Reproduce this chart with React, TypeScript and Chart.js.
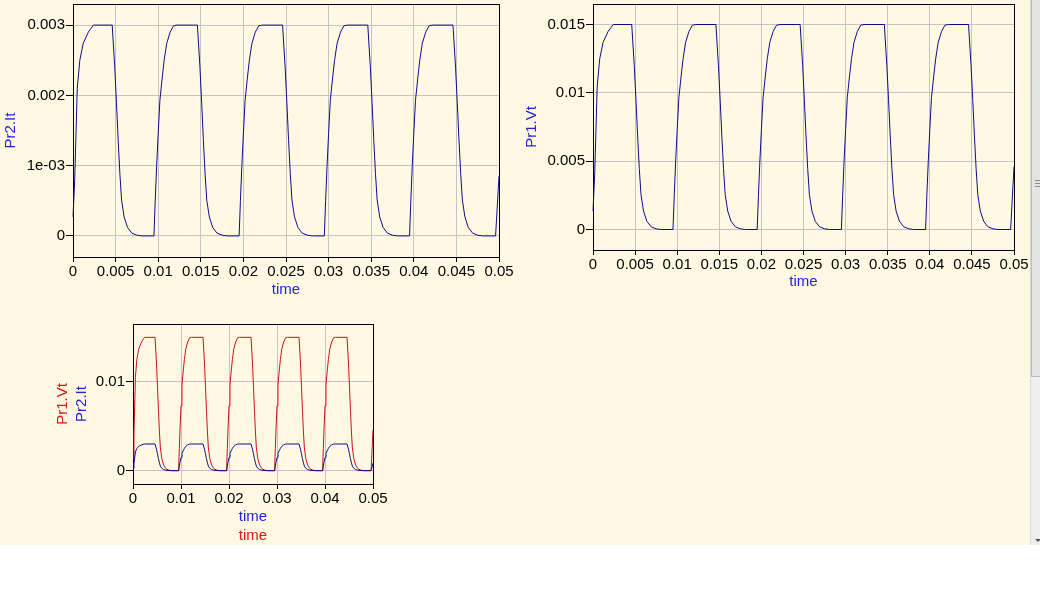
import React, { useEffect, useRef } from "react";
import { Chart, registerables } from "chart.js";

Chart.register(...registerables);

// ---------- data ----------
const time = [
  0, 0.0002, 0.0005, 0.0008, 0.0012, 0.0018, 0.0024, 0.0046, 0.0049, 0.0051, 0.0053, 0.0055, 0.0057, 0.006, 0.0064, 0.0069, 0.0075, 0.0081,
  0.0095, 0.00965, 0.00982, 0.01, 0.0102, 0.01048, 0.0107, 0.011, 0.0114, 0.0118, 0.0122, 0.0146, 0.0149, 0.0151, 0.0153, 0.0155, 0.0157, 0.016, 0.0164, 0.0169, 0.0175, 0.0181,
  0.0195, 0.01965, 0.01982, 0.02, 0.0202, 0.02048, 0.0207, 0.021, 0.0214, 0.0218, 0.0222, 0.0246, 0.0249, 0.0251, 0.0253, 0.0255, 0.0257, 0.026, 0.0264, 0.0269, 0.0275, 0.0281,
  0.0295, 0.02965, 0.02982, 0.03, 0.0302, 0.03048, 0.0307, 0.031, 0.0314, 0.0318, 0.0322, 0.0346, 0.0349, 0.0351, 0.0353, 0.0355, 0.0357, 0.036, 0.0364, 0.0369, 0.0375, 0.0381,
  0.0395, 0.03965, 0.03982, 0.04, 0.0402, 0.04048, 0.0407, 0.041, 0.0414, 0.0418, 0.0422, 0.0446, 0.0449, 0.0451, 0.0453, 0.0455, 0.0457, 0.046, 0.0464, 0.0469, 0.0475, 0.0481,
  0.0496, 0.05,
];

const pr2It = [
  0.00027, 0.0008, 0.0021, 0.0025, 0.00274, 0.0029, 0.003, 0.003, 0.0024, 0.0019, 0.00137, 0.00089, 0.00051, 0.00027, 0.00012, 0.00004, 0.00001, 0,
  0, 0.0005, 0.001, 0.00146, 0.00193, 0.00226, 0.0025, 0.00274, 0.0029, 0.00299, 0.003, 0.003, 0.0024, 0.0019, 0.00137, 0.00089, 0.00051, 0.00027, 0.00012, 0.00004, 0.00001, 0,
  0, 0.0005, 0.001, 0.00146, 0.00193, 0.00226, 0.0025, 0.00274, 0.0029, 0.00299, 0.003, 0.003, 0.0024, 0.0019, 0.00137, 0.00089, 0.00051, 0.00027, 0.00012, 0.00004, 0.00001, 0,
  0, 0.0005, 0.001, 0.00146, 0.00193, 0.00226, 0.0025, 0.00274, 0.0029, 0.00299, 0.003, 0.003, 0.0024, 0.0019, 0.00137, 0.00089, 0.00051, 0.00027, 0.00012, 0.00004, 0.00001, 0,
  0, 0.0005, 0.001, 0.00146, 0.00193, 0.00226, 0.0025, 0.00274, 0.0029, 0.00299, 0.003, 0.003, 0.0024, 0.0019, 0.00137, 0.00089, 0.00051, 0.00027, 0.00012, 0.00004, 0.00001, 0,
  0, 0.00085,
];

const pr1Vt = [
  0.00135, 0.004, 0.0105, 0.0125, 0.0137, 0.0145, 0.015, 0.015, 0.012, 0.0095, 0.00685, 0.00445, 0.00255, 0.00135, 0.0006, 0.0002, 0.00005, 0,
  0, 0.0025, 0.005, 0.0073, 0.00965, 0.0113, 0.0125, 0.0137, 0.0145, 0.01495, 0.015, 0.015, 0.012, 0.0095, 0.00685, 0.00445, 0.00255, 0.00135, 0.0006, 0.0002, 0.00005, 0,
  0, 0.0025, 0.005, 0.0073, 0.00965, 0.0113, 0.0125, 0.0137, 0.0145, 0.01495, 0.015, 0.015, 0.012, 0.0095, 0.00685, 0.00445, 0.00255, 0.00135, 0.0006, 0.0002, 0.00005, 0,
  0, 0.0025, 0.005, 0.0073, 0.00965, 0.0113, 0.0125, 0.0137, 0.0145, 0.01495, 0.015, 0.015, 0.012, 0.0095, 0.00685, 0.00445, 0.00255, 0.00135, 0.0006, 0.0002, 0.00005, 0,
  0, 0.0025, 0.005, 0.0073, 0.00965, 0.0113, 0.0125, 0.0137, 0.0145, 0.01495, 0.015, 0.015, 0.012, 0.0095, 0.00685, 0.00445, 0.00255, 0.00135, 0.0006, 0.0002, 0.00005, 0,
  0, 0.0046,
];

// ---------- ticks ----------
const xTicksFine = [0, 0.005, 0.01, 0.015, 0.02, 0.025, 0.03, 0.035, 0.04, 0.045, 0.05];
const xLabelsFine = ["0", "0.005", "0.01", "0.015", "0.02", "0.025", "0.03", "0.035", "0.04", "0.045", "0.05"];
const xTicksCoarse = [0, 0.01, 0.02, 0.03, 0.04, 0.05];
const xLabelsCoarse = ["0", "0.01", "0.02", "0.03", "0.04", "0.05"];

const yTicksIt = [0, 0.001, 0.002, 0.003];
const yLabelsIt = ["0", "1e-03", "0.002", "0.003"];
const yRangeIt = [-0.0003, 0.0033];

const yTicksVt = [0, 0.005, 0.01, 0.015];
const yLabelsVt = ["0", "0.005", "0.01", "0.015"];
const yRangeVt = [-0.0015, 0.0165];

const yTicksBoth = [0, 0.01];
const yLabelsBoth = ["0", "0.01"];

const xRange = [0, 0.05];

// ---------- styles ----------
const FONT = { family: "'Liberation Sans', Arial, sans-serif", size: 15 };
const GRID = "#C4C4C4";
const BLUE_LINE = "#0C0C8C";
const RED_LINE = "#C81414";
const BLUE_TEXT = "#2323D8";
const RED_TEXT = "#E01414";
const CREAM = "#FFF9E3";

const framePlugin = {
  id: "frame",
  beforeDatasetsDraw(chart: any) {
    const { ctx, chartArea } = chart;
    const l = Math.round(chartArea.left) + 0.5;
    const t = Math.round(chartArea.top) + 0.5;
    const r = Math.round(chartArea.right) + 0.5;
    const b = Math.round(chartArea.bottom) + 0.5;
    ctx.save();
    ctx.strokeStyle = "#000";
    ctx.lineWidth = 1;
    ctx.strokeRect(l, t, r - l, b - t);
    ctx.restore();
  },
};

function pts(ys: number[]) {
  return time.map((t, i) => ({ x: t, y: ys[i] }));
}

function xAxis(ticks: number[], labels: string[], title: string, color: string, height: number) {
  return {
    type: "linear",
    position: "bottom",
    weight: 0,
    min: xRange[0],
    max: xRange[1],
    afterBuildTicks: (s: any) => {
      s.ticks = ticks.map((v) => ({ value: v }));
    },
    afterFit: (s: any) => {
      s.height = height;
      s.paddingLeft = 0;
      s.paddingRight = 0;
    },
    ticks: {
      callback: (_v: any, i: number) => labels[i],
      color: "#000",
      padding: 1,
      maxRotation: 0,
      autoSkip: false,
      font: FONT,
    },
    grid: { color: GRID, tickColor: "#000", tickLength: 5, lineWidth: 1 },
    border: { color: "#000" },
    title: { display: true, text: title, color, font: FONT, padding: { top: 0, bottom: 0 } },
  };
}

function yAxis(ticks: number[], labels: string[], range: number[], title: string, color: string, width: number, titlePad: number) {
  return {
    type: "linear",
    position: "left",
    weight: 0,
    min: range[0],
    max: range[1],
    afterBuildTicks: (s: any) => {
      s.ticks = ticks.map((v) => ({ value: v }));
    },
    afterFit: (s: any) => {
      s.width = width;
      s.paddingTop = 0;
      s.paddingBottom = 0;
    },
    ticks: {
      callback: (_v: any, i: number) => labels[i],
      color: "#000",
      padding: 1,
      autoSkip: false,
      font: FONT,
    },
    grid: { color: GRID, tickColor: "#000", tickLength: 7, lineWidth: 1 },
    border: { color: "#000" },
    title: { display: true, text: title, color, font: FONT, padding: { top: titlePad, bottom: 0 } },
  };
}

function titleOnlyAxis(position: string, range: number[], title: string, color: string, size: number, titlePad: number) {
  const horizontal = position === "bottom";
  return {
    type: "linear",
    position,
    weight: 1,
    min: range[0],
    max: range[1],
    ticks: { display: false },
    grid: { display: false },
    border: { display: false },
    afterFit: (s: any) => {
      if (horizontal) {
        s.height = size;
        s.paddingLeft = 0;
        s.paddingRight = 0;
      } else {
        s.width = size;
        s.paddingTop = 0;
        s.paddingBottom = 0;
      }
    },
    title: { display: true, text: title, color, font: FONT, padding: { top: titlePad, bottom: 0 } },
  };
}

function line(label: string, ys: number[], color: string) {
  return {
    label,
    data: pts(ys),
    borderColor: color,
    backgroundColor: color,
    borderWidth: 1,
    pointRadius: 0,
    tension: 0,
    fill: false,
    clip: false,
  };
}

function baseOptions(padding: any, scales: any) {
  return {
    animation: false,
    responsive: false,
    devicePixelRatio: 1,
    events: [],
    layout: { padding },
    plugins: { legend: { display: false }, tooltip: { enabled: false } },
    scales,
  };
}

const configIt = () => ({
  type: "line",
  data: { datasets: [line("Pr2.It", pr2It, BLUE_LINE)] },
  options: baseOptions(
    { left: 0, top: 4, right: 21, bottom: 0 },
    {
      x: xAxis(xTicksFine, xLabelsFine, "time", BLUE_TEXT, 42),
      y: yAxis(yTicksIt, yLabelsIt, yRangeIt, "Pr2.It", BLUE_TEXT, 73, 2),
    }
  ),
  plugins: [framePlugin],
});

const configVt = () => ({
  type: "line",
  data: { datasets: [line("Pr1.Vt", pr1Vt, BLUE_LINE)] },
  options: baseOptions(
    { left: 0, top: 4, right: 16, bottom: 0 },
    {
      x: xAxis(xTicksFine, xLabelsFine, "time", BLUE_TEXT, 41),
      y: yAxis(yTicksVt, yLabelsVt, yRangeVt, "Pr1.Vt", BLUE_TEXT, 73, 3),
    }
  ),
  plugins: [framePlugin],
});

const configBoth = () => ({
  type: "line",
  data: {
    datasets: [line("Pr2.It", pr2It, BLUE_LINE), line("Pr1.Vt", pr1Vt, RED_LINE)],
  },
  options: baseOptions(
    { left: 0, top: 14, right: 17, bottom: 0 },
    {
      x: xAxis(xTicksCoarse, xLabelsCoarse, "time", BLUE_TEXT, 42),
      x2: titleOnlyAxis("bottom", xRange, "time", RED_TEXT, 19, 0),
      y: yAxis(yTicksBoth, yLabelsBoth, yRangeVt, "Pr2.It", BLUE_TEXT, 60, 0),
      yv: titleOnlyAxis("left", yRangeVt, "Pr1.Vt", RED_TEXT, 33, 14),
    }
  ),
  plugins: [framePlugin],
});

function Plot({ left, top, width, height, config }: { left: number; top: number; width: number; height: number; config: () => any }) {
  const ref = useRef<HTMLCanvasElement>(null);
  useEffect(() => {
    const chart = new Chart(ref.current as HTMLCanvasElement, config());
    return () => chart.destroy();
  }, [config]);
  return (
    <canvas
      ref={ref}
      width={width}
      height={height}
      style={{ position: "absolute", left, top, width, height, display: "block" }}
    />
  );
}

export default function App() {
  return (
    <div style={{ position: "absolute", left: 0, top: 0, width: 1040, height: 609, background: "#fff", overflow: "hidden" }}>
      <div style={{ position: "absolute", left: 0, top: 0, width: 1030, height: 545, background: CREAM }} />
      {/* scrollbar */}
      <div style={{ position: "absolute", left: 1030, top: 0, width: 10, height: 545, background: "#EFEFEF", borderLeft: "1px solid #D8D8D8", boxSizing: "border-box" }} />
      <div style={{ position: "absolute", left: 1031, top: 0, width: 9, height: 377, background: "#E4E4E4", borderLeft: "1px solid #BDBDBD", borderBottom: "1px solid #BDBDBD", boxSizing: "border-box" }} />
      <div style={{ position: "absolute", left: 1035, top: 180, width: 5, height: 1, background: "#8A8A8A" }} />
      <div style={{ position: "absolute", left: 1035, top: 183, width: 5, height: 1, background: "#8A8A8A" }} />
      <div style={{ position: "absolute", left: 1035, top: 186, width: 5, height: 1, background: "#8A8A8A" }} />
      <div style={{ position: "absolute", left: 1035, top: 539, width: 0, height: 0, borderLeft: "3px solid transparent", borderRight: "3px solid transparent", borderTop: "3px solid #555" }} />

      <Plot left={0} top={0} width={520} height={299} config={configIt} />
      <Plot left={520} top={0} width={510} height={291} config={configVt} />
      <Plot left={40} top={310} width={350} height={235} config={configBoth} />
    </div>
  );
}
